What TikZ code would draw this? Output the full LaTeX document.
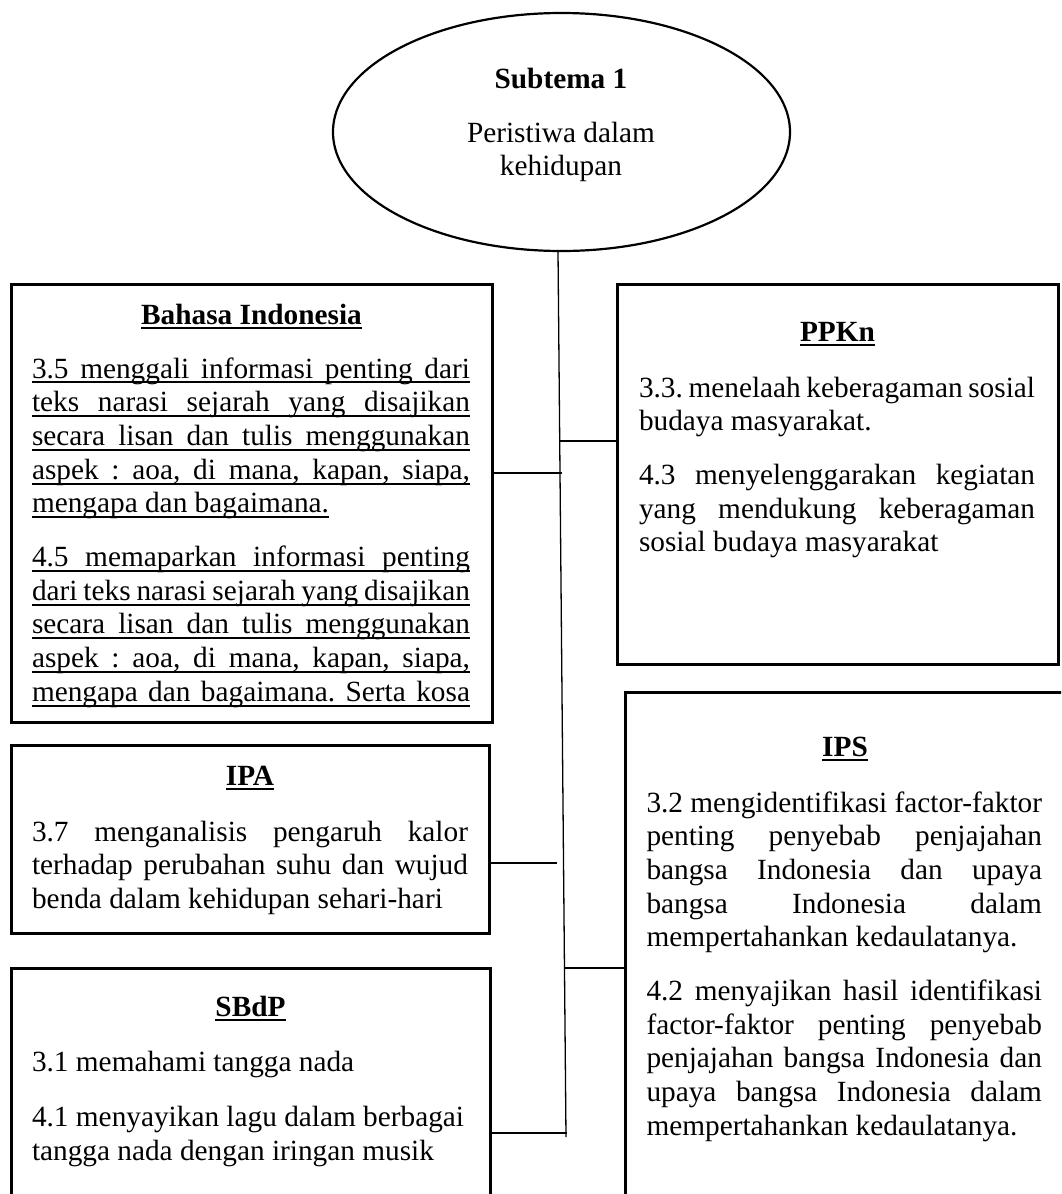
\documentclass[tikz,border=0pt]{standalone}
\usepackage{fontspec}
\setmainfont{Liberation Serif}
\usetikzlibrary{shapes.geometric}
\newsavebox\ulbox
\newcommand\bodyfont{\fontsize{29.3pt}{33.7pt}\selectfont\frenchspacing}
\newcommand\lnUJ[1]{\hbox to\hsize{\rlap{\rule[-5.4pt]{\hsize}{2pt}}#1}}
\newcommand\lnUN[1]{\sbox\ulbox{#1}\hbox{\rlap{\rule[-5.4pt]{\wd\ulbox}{2pt}}\usebox\ulbox}}
\newcommand\lnJ[1]{\hbox to\hsize{#1}}
\newcommand\lnN[1]{\hbox{#1}}
\newcommand\pgap{\vskip 20pt}
\tikzset{
  boxst/.style={draw, rectangle, line width=3pt, inner sep=0pt, outer sep=0pt},
  ellst/.style={draw, ellipse, line width=2.2pt, inner sep=0pt, outer sep=0pt},
  conn/.style={line width=1.3pt},
  txt/.style={inner sep=0pt, outer sep=0pt, anchor=base west, font=\bodyfont},
  ctr/.style={inner sep=0pt, outer sep=0pt, anchor=base, font=\bodyfont},
  ttl/.style={inner sep=0pt, outer sep=0pt, anchor=base, font=\bodyfont\bfseries},
}
\begin{document}
\begin{tikzpicture}[x=1pt, y=-1pt]
\useasboundingbox (0,0) rectangle (1061,1194);
\fill[white] (0,0) rectangle (1061,1194);
\clip (0,0) rectangle (1061,1194);

% central ellipse
\node[ellst, minimum width=457pt, minimum height=238pt] (sub) at (561.5,132) {};
\node[ttl] (subT) at (561,88) {Subtema 1};
\node[ctr] (subL1) at (561,142) {Peristiwa dalam};
\node[ctr] (subL2) at (561,175) {kehidupan};

% boxes
\node[boxst, minimum width=481pt, minimum height=438pt] (bi) at (251.5,503) {};
\node[boxst, minimum width=441pt, minimum height=380pt] (ppkn) at (837.5,474) {};
\node[boxst, minimum width=478pt, minimum height=188pt] (ipa) at (250,839) {};
\node[boxst, minimum width=479.5pt, minimum height=292pt] (sbdp) at (250.75,1114) {};
\node[boxst, minimum width=441pt, minimum height=568pt] (ips) at (845.5,976) {};

% trunk and junctions
\coordinate (tTop) at (558,251);
\coordinate (tBot) at (566,1137);
\coordinate (jP) at (558.5,441);
\coordinate (jB) at (561.5,473);
\coordinate (jA) at (557,863);
\coordinate (jS) at (564.5,968);
\coordinate (jD) at (567,1133);
\draw[conn] (tTop) -- (tBot);
\draw[conn] (jP) -- (jP -| ppkn.west);
\draw[conn] (bi.east |- jB) -- (jB);
\draw[conn] (ipa.east |- jA) -- (jA);
\draw[conn] (jS) -- (jS -| ips.west);
\draw[conn] (sbdp.east |- jD) -- (jD);

% Bahasa Indonesia
\node[ttl] (biT) at (251.5,324) {\lnUN{Bahasa Indonesia}};
\node[txt] (biB) at (32,378) {\vtop{\hsize=438pt
\lnUJ{3.5 menggali informasi penting dari}
\lnUJ{teks narasi sejarah yang disajikan}
\lnUJ{secara lisan dan tulis menggunakan}
\lnUJ{aspek : aoa, di mana, kapan, siapa,}
\lnUN{mengapa dan bagaimana.}
\pgap
\lnUJ{4.5 memaparkan informasi penting}
\lnUJ{dari teks narasi sejarah yang disajikan}
\lnUJ{secara lisan dan tulis menggunakan}
\lnUJ{aspek : aoa, di mana, kapan, siapa,}
\lnUJ{mengapa dan bagaimana. Serta kosa}}};

% PPKn
\node[ttl] (ppknT) at (837.5,341) {\lnUN{PPKn}};
\node[txt] (ppknB) at (639,397) {\vtop{\hsize=396pt
\lnJ{3.3. menelaah keberagaman sosial}
\lnN{budaya masyarakat.}
\pgap
\lnJ{4.3 menyelenggarakan kegiatan}
\lnJ{yang mendukung keberagaman}
\lnN{sosial budaya masyarakat}}};

% IPA
\node[ttl] (ipaT) at (250,785) {\lnUN{IPA}};
\node[txt] (ipaB) at (32,841) {\vtop{\hsize=436pt
\lnJ{3.7 menganalisis pengaruh kalor}
\lnJ{terhadap perubahan suhu dan wujud}
\lnN{benda dalam kehidupan sehari-hari}}};

% SBdP
\node[ttl] (sbdpT) at (250.5,1016) {\lnUN{SBdP}};
\node[txt] (sbdpB) at (32,1071) {\vtop{\hsize=436pt
\lnN{3.1 memahami tangga nada}
\vskip 22pt
\lnN{4.1 menyayikan lagu dalam berbagai}
\lnN{tangga nada dengan iringan musik}}};

% IPS
\node[ttl] (ipsT) at (845,756) {\lnUN{IPS}};
\node[txt] (ipsB) at (646.5,812) {\vtop{\hsize=395.5pt
\lnJ{3.2 mengidentifikasi factor-faktor}
\lnJ{penting penyebab penjajahan}
\lnJ{bangsa Indonesia dan upaya}
\lnJ{bangsa Indonesia dalam}
\lnN{mempertahankan kedaulatanya.}
\pgap
\lnJ{4.2 menyajikan hasil identifikasi}
\lnJ{factor-faktor penting penyebab}
\lnJ{penjajahan bangsa Indonesia dan}
\lnJ{upaya bangsa Indonesia dalam}
\lnN{mempertahankan kedaulatanya.}}};
\end{tikzpicture}
\end{document}
